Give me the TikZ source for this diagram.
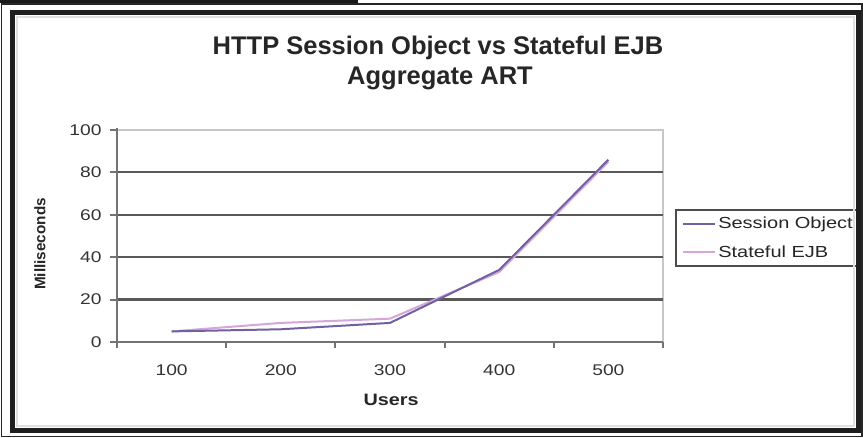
\documentclass[tikz,border=0pt]{standalone}
\usepackage{fontspec}
\setmainfont{Liberation Sans}
\definecolor{sessioncol}{RGB}{112,98,162}
\definecolor{statefulcol}{RGB}{214,166,218}
\begin{document}
\begin{tikzpicture}[x=1pt,y=-1pt]
		\tikzstyle{grid}=[black!65,line width=2.2pt]
		\tikzstyle{lightgrid}=[black!22,line width=1.6pt]
		\tikzstyle{axis}=[black!55,line width=2pt]
		\tikzstyle{ticklbl}=[font=\fontsize{15.5}{18}\selectfont,xscale=1.24,text=black!80,inner sep=0pt]
		\tikzstyle{title}=[font=\fontsize{25.5}{30}\selectfont\bfseries,text=black!85,inner sep=0pt,anchor=base]
		\tikzstyle{session}=[sessioncol,line width=2pt,line join=round]
		\tikzstyle{stateful}=[statefulcol,line width=2pt,line join=round]
		\useasboundingbox (0,0) rectangle (863,438);
		\fill[white] (0,0) rectangle (863,438);
		% title
		\node[title](t1)at(438,55){HTTP Session Object vs Stateful EJB};
		\node[title](t2)at(440,85){Aggregate ART};
		% plot area
		\begin{scope}[shift={(117,342)},x=109.2pt,y=2.12pt]
		\draw[lightgrid] (0,100) -- (5,100) -- (5,0);
		\draw[grid] (0,20) -- (5,20);
		\draw[grid] (0,40) -- (5,40);
		\draw[grid] (0,60) -- (5,60);
		\draw[grid] (0,80) -- (5,80);
		\draw[axis] (0,101) -- (0,0) -- (5,0);
		\draw[axis] (-0.065,0) -- (0,0);
		\draw[axis] (-0.065,20) -- (0,20);
		\draw[axis] (-0.065,40) -- (0,40);
		\draw[axis] (-0.065,60) -- (0,60);
		\draw[axis] (-0.065,80) -- (0,80);
		\draw[axis] (-0.065,100) -- (0,100);
		\draw[axis] (0,0) -- (0,-3);
		\draw[axis] (1,0) -- (1,-3);
		\draw[axis] (2,0) -- (2,-3);
		\draw[axis] (3,0) -- (3,-3);
		\draw[axis] (4,0) -- (4,-3);
		\draw[axis] (5,0) -- (5,-3);
		% y labels
		\node[ticklbl,anchor=east](y0)at(-0.14,0){0};
		\node[ticklbl,anchor=east](y20)at(-0.14,20){20};
		\node[ticklbl,anchor=east](y40)at(-0.14,40){40};
		\node[ticklbl,anchor=east](y60)at(-0.14,60){60};
		\node[ticklbl,anchor=east](y80)at(-0.14,80){80};
		\node[ticklbl,anchor=east](y100)at(-0.14,100){100};
		% x labels
		\node[ticklbl](x1)at(0.5,-13.2){100};
		\node[ticklbl](x2)at(1.5,-13.2){200};
		\node[ticklbl](x3)at(2.5,-13.2){300};
		\node[ticklbl](x4)at(3.5,-13.2){400};
		\node[ticklbl](x5)at(4.5,-13.2){500};
		\node[font=\fontsize{16.5}{18}\selectfont\bfseries,xscale=1.2,text=black!85](users)at(2.51,-27.4){Users};
		\node[font=\fontsize{15.3}{18}\selectfont\bfseries,rotate=90,text=black!85](ms)at(-0.705,46.2){Milliseconds};
		% data
		\coordinate (e1)at(0.5,5);
		\coordinate (e2)at(1.5,9);
		\coordinate (e3)at(2.5,11);
		\coordinate (e4)at(3.5,33);
		\coordinate (e5)at(4.5,85);
		\coordinate (s1)at(0.5,5);
		\coordinate (s2)at(1.5,6);
		\coordinate (s3)at(2.5,9);
		\coordinate (s4)at(3.5,34);
		\coordinate (s5)at(4.5,86);
		\draw[stateful] (e1) -- (e2) -- (e3) -- (e4) -- (e5);
		\draw[session] (s1) -- (s2) -- (s3) -- (s4) -- (s5);
		\end{scope}
		% legend
		\draw[black!70,line width=1.5pt] (676,210) rectangle (858,266);
		\coordinate (l1a)at(683,224);
		\coordinate (l1b)at(715,224);
		\coordinate (l2a)at(683,252);
		\coordinate (l2b)at(715,252);
		\draw[session] (l1a) -- (l1b);
		\draw[stateful] (l2a) -- (l2b);
		\node[font=\fontsize{16}{18}\selectfont,xscale=1.25,anchor=west,inner sep=0pt,text=black!85](leg1)at(718,224){Session Object};
		\node[font=\fontsize{16}{18}\selectfont,xscale=1.25,anchor=west,inner sep=0pt,text=black!85](leg2)at(718,252){Stateful EJB};
		% frame
		\draw[black!12,line width=2pt] (17,17) rectangle (854,426);
		\draw[black!88,line width=5pt] (12.5,12.5) rectangle (858.5,430.5);
		\draw[black!85,line width=1.5pt] (1.5,4) rectangle (862,436.5);
		\fill[black!90] (0,0) rectangle (358,3);
\end{tikzpicture}
\end{document}
